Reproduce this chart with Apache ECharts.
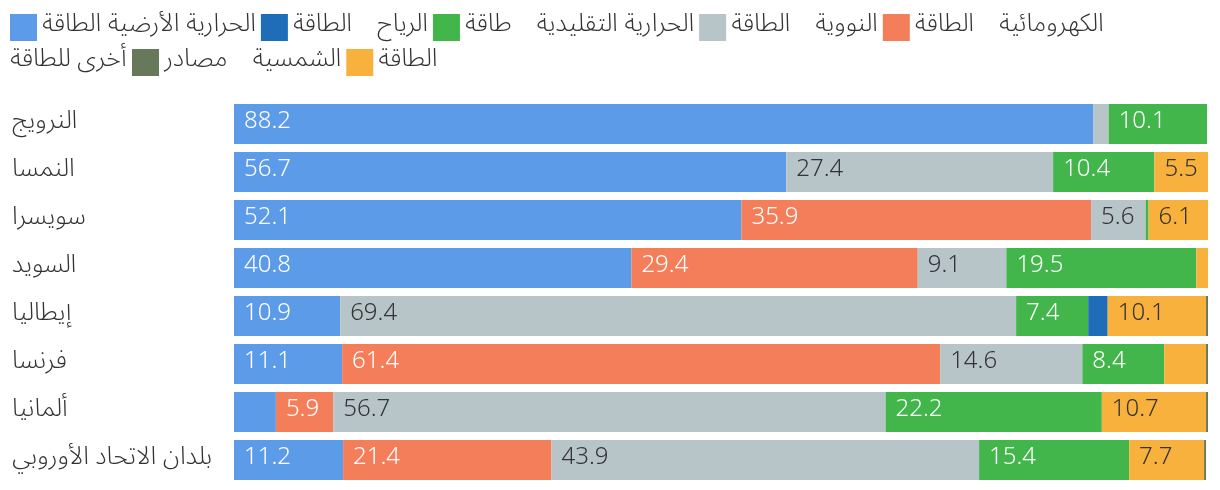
<!DOCTYPE html>
<html>
<head>
<meta charset="utf-8">
<script src="https://cdn.jsdelivr.net/npm/echarts@6/dist/echarts.min.js"></script>
<style>
html,body{margin:0;padding:0;background:#fff;}
#chart{width:1220px;height:490px;}
</style>
</head>
<body>
<div id="chart"></div>
<script>
// Categories (top to bottom)
var countries = ['النرويج', 'النمسا', 'سويسرا', 'السويد', 'إيطاليا', 'فرنسا', 'ألمانيا', 'بلدان الاتحاد الأوروبي'];

// Series names
var seriesNames = ['الطاقة الكهرومائية', 'الطاقة النووية', 'الطاقة الحرارية التقليدية', 'طاقة الرياح', 'الطاقة الحرارية الأرضية', 'الطاقة الشمسية', 'مصادر أخرى للطاقة'];

// Values (% share), in the order of countries
var hydro      = [88.2, 56.7, 52.1, 40.8, 10.9, 11.1, 4.3, 11.2];
var nuclear    = [0, 0, 35.9, 29.4, 0, 61.4, 5.9, 21.4];
var thermal    = [1.6, 27.4, 5.6, 9.1, 69.4, 14.6, 56.7, 43.9];
var wind       = [10.1, 10.4, 0.3, 19.5, 7.4, 8.4, 22.2, 15.4];
var geothermal = [0, 0, 0, 0, 2.0, 0, 0, 0];
var solar      = [0, 5.5, 6.1, 1.2, 10.1, 4.3, 10.7, 7.7];
var other      = [0, 0, 0, 0, 0.2, 0.2, 0.2, 0.2];

var values = [hydro, nuclear, thermal, wind, geothermal, solar, other];
var colors = ['#5b9be8', '#f57e5a', '#b7c4c8', '#42b54b', '#1f6db8', '#f9b13e', '#68795b'];
var labelColors = ['#ffffff', '#ffffff', '#333333', '#ffffff', '#ffffff', '#333333', '#ffffff'];

// Legend text as it appears around each swatch in the picture (words wrapped right-to-left)
var GAP = '\u2003';
var legendRow1 = {};
legendRow1[seriesNames[0]] = 'الحرارية الأرضية الطاقة';
legendRow1[seriesNames[4]] = 'الرياح' + GAP + 'الطاقة';
legendRow1[seriesNames[3]] = 'الحرارية التقليدية' + GAP + 'طاقة';
legendRow1[seriesNames[2]] = 'النووية' + GAP + 'الطاقة';
legendRow1[seriesNames[1]] = 'الكهرومائية' + GAP + 'الطاقة';
var legendRow2Lead = 'أخرى للطاقة';
var legendRow2 = {};
legendRow2[seriesNames[6]] = 'الشمسية' + GAP + 'مصادر';
legendRow2[seriesNames[5]] = 'الطاقة';

var font = '"Noto Sans Arabic", "Noto Sans", sans-serif';
var FS = 25;

// width of the leading text of the second legend row
var mctx = document.createElement('canvas').getContext('2d');
mctx.font = '300 ' + FS + 'px ' + font;
var leadW = mctx.measureText(legendRow2Lead).width;

var chart = echarts.init(document.getElementById('chart'), null, {renderer: 'canvas'});

var series = values.map(function (arr, i) {
  return {
    name: seriesNames[i],
    type: 'bar',
    stack: 'total',
    barWidth: 40,
    itemStyle: {color: colors[i]},
    emphasis: {disabled: true},
    label: {
      show: true,
      position: 'insideLeft',
      distance: 10,
      color: labelColors[i],
      fontFamily: font,
      fontSize: 24,
      fontWeight: 300,
      formatter: function (p) { return p.value >= 5 ? p.value.toFixed(1) : ''; }
    },
    data: arr
  };
});

var legendText = {color: '#333', fontSize: FS, fontFamily: font, fontWeight: 300};

chart.setOption({
  animation: false,
  color: colors,
  legend: [
    {
      data: [seriesNames[0], seriesNames[4], seriesNames[3], seriesNames[2], seriesNames[1]],
      left: 10, top: 14, padding: 0,
      align: 'left',
      icon: 'rect', itemWidth: 27, itemHeight: 27, itemGap: 5,
      selectedMode: false,
      formatter: function (n) { return legendRow1[n]; },
      textStyle: legendText
    },
    {
      data: [seriesNames[6], seriesNames[5]],
      left: Math.round(10 + leadW + 5), top: 49, padding: 0,
      align: 'left',
      icon: 'rect', itemWidth: 27, itemHeight: 27, itemGap: 5,
      selectedMode: false,
      formatter: function (n) { return legendRow2[n]; },
      textStyle: legendText
    }
  ],
  graphic: [{
    type: 'text', x: 10, y: 62.5,
    style: {text: legendRow2Lead, fill: '#333', font: '300 ' + FS + 'px ' + font, verticalAlign: 'middle', align: 'left'}
  }],
  grid: {left: 234, right: 12, top: 100, height: 384, containLabel: false},
  xAxis: {type: 'value', min: 0, max: 100, show: false},
  yAxis: {
    type: 'category',
    data: countries,
    inverse: true,
    axisLine: {show: false},
    axisTick: {show: false},
    splitLine: {show: false},
    axisLabel: {
      align: 'left',
      margin: 222,
      color: '#333',
      fontSize: FS,
      fontFamily: font,
      fontWeight: 300
    }
  },
  series: series
});
</script>
</body>
</html>
